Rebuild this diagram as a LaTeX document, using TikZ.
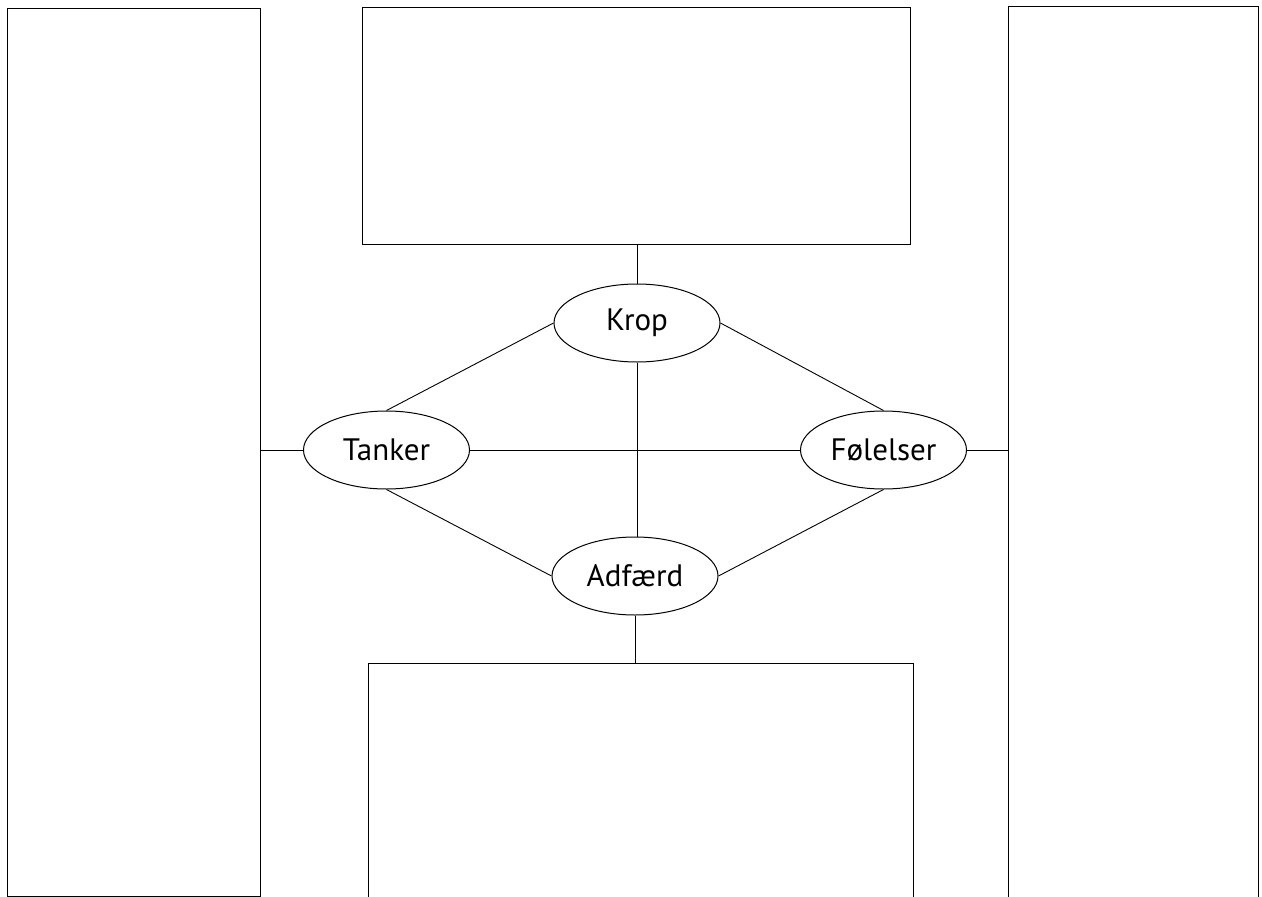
\documentclass[tikz,border=0pt]{standalone}
\usepackage{fontspec}
\setmainfont{PT Sans}
\usetikzlibrary{shapes.geometric}
\tikzset{
  frame/.style={draw, line width=0.9pt, inner sep=0pt},
  topic/.style={draw, ellipse, line width=1pt, minimum width=166pt, minimum height=78pt, inner sep=0pt, font=\fontsize{31}{36}\selectfont},
  link/.style={line width=0.9pt}
}
\begin{document}
\begin{tikzpicture}[x=1pt, y=-1pt]
  \useasboundingbox (0,0) rectangle (1262,897);
  \clip (0,0) rectangle (1262,897);
  % writing frames
  \node[frame, minimum width=253pt, minimum height=888pt] (left) at (133.5,452) {};
  \node[frame, minimum width=548pt, minimum height=237pt] (top) at (636,125.5) {};
  \node[frame, minimum width=250pt, minimum height=891pt] (right) at (1133,451.5) {};
  \node[frame, minimum width=545pt, minimum height=250pt] (bottom) at (640.5,788) {};
  % the four topics
  \node[topic] (krop) at (637,323) {Krop};
  \node[topic] (tanker) at (386.5,450) {Tanker};
  \node[topic] (foel) at (883.5,450) {Følelser};
  \node[topic] (adf) at (635,576) {Adfærd};
  % connectors
  \draw[link] (krop.north) -- (krop.north |- top.south);
  \draw[link] (adf.south) -- (adf.south |- bottom.north);
  \draw[link] (krop.south) -- (krop.south |- adf.north);
  \draw[link] (tanker.east) -- (foel.west);
  \draw[link] (tanker.west) -- (left.east |- tanker.west);
  \draw[link] (foel.east) -- (right.west |- foel.east);
  \draw[link] (krop.west) -- (tanker.north);
  \draw[link] (krop.east) -- (foel.north);
  \draw[link] (tanker.south) -- (adf.west);
  \draw[link] (foel.south) -- (adf.east);
\end{tikzpicture}
\end{document}
